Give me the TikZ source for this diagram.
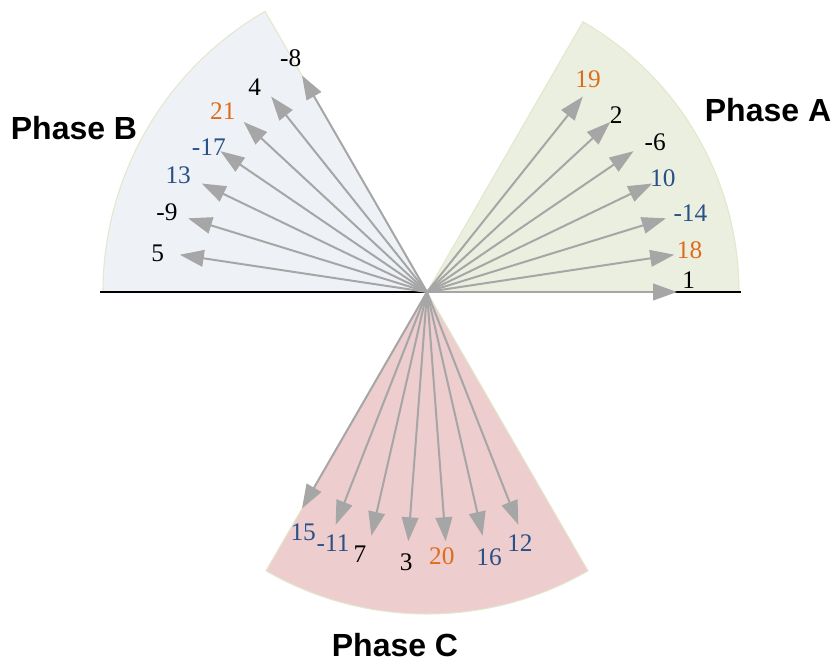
\documentclass[tikz,border=0pt]{standalone}
\usepackage{fontspec}
\setmainfont{Liberation Serif}
\setsansfont{Liberation Sans}
\usetikzlibrary{arrows.meta}
\definecolor{fillA}{HTML}{EBEFDF}
\definecolor{fillB}{HTML}{EEF2F7}
\definecolor{fillC}{HTML}{EDCDCD}
\definecolor{rim}{HTML}{E3E7CC}
\definecolor{vec}{HTML}{A6A6A6}
\definecolor{numblue}{HTML}{2A5088}
\definecolor{numorange}{HTML}{E06C1A}
\begin{document}
\begin{tikzpicture}[x=0.75pt,y=0.75pt,
  phasor/.style={-{Triangle[length=18pt,width=12.5pt]},vec,line width=1.5pt},
  num/.style={font=\fontsize{19}{21}\selectfont,inner sep=0pt},
  phase/.style={font=\sffamily\bfseries\fontsize{24}{28}\selectfont}]
\useasboundingbox (-427,-371) rectangle (408,292);
\coordinate (O) at (0,0);
% sectors
\filldraw[fill=fillA,draw=rim,line width=.8pt] (O) -- (0:312)
  arc[start angle=0,end angle=60,radius=312] -- cycle;
\filldraw[fill=fillB,draw=rim,line width=.8pt] (O) -- (120:324)
  arc[start angle=120,end angle=180,radius=324] -- cycle;
\filldraw[fill=fillC,draw=rim,line width=.8pt] (O) -- (240:322)
  arc[start angle=240,end angle=300,radius=322] -- cycle;
% axis
\coordinate (axL) at (-327,0);
\coordinate (axR) at (314,0);
\draw[black,line width=1pt] (axL) -- (axR);
% slot phasors: index/label/colour/label angle/label radius
\foreach \k/\lab/\col/\la/\lr in {
  0/1/black/2.6/262, 1/18/numorange/9.1/266, 2/-14/numblue/16.7/275,
  3/10/numblue/25.8/262, 4/-6/black/33.3/273, 5/2/black/43.1/259,
  6/19/numorange/52.9/267,
  14/-8/black/120.2/271, 15/4/black/130/268, 16/21/numorange/138.4/273,
  17/-17/numblue/146.4/262, 18/13/numblue/154.8/275, 19/-9/black/162.9/272,
  20/5/black/171.8/272,
  28/15/numblue/242.7/270, 29/-11/numblue/249.5/268, 30/7/black/255.7/271,
  31/3/black/265.6/271, 32/20/numorange/273.2/265, 33/16/numblue/283.2/272,
  34/12/numblue/290.3/268}{
  \coordinate (tip\k) at ({\k*360/42}:250);
  \draw[phasor] (O) -- (tip\k);
  \node[num,text=\col] (lab\k) at (\la:\lr) {\lab};
}
% phase names
\node[phase] (phA) at (341,182) {Phase A};
\node[phase] (phB) at (-353,164) {Phase B};
\node[phase] (phC) at (-32,-353) {Phase C};
\end{tikzpicture}
\end{document}
